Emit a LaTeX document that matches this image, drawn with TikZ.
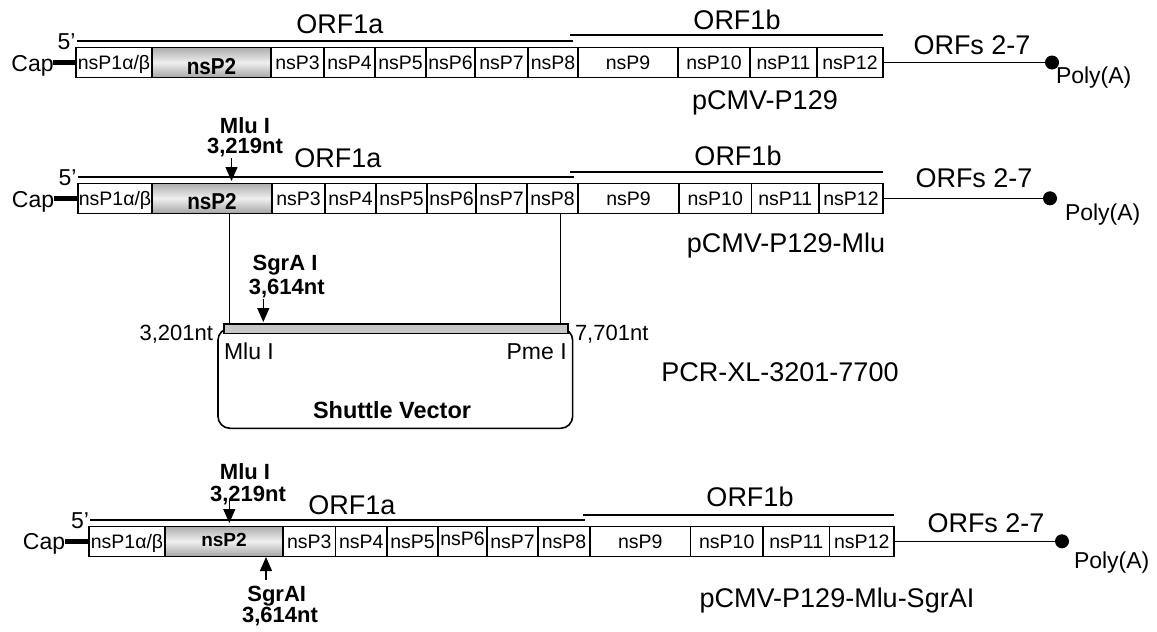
\documentclass[tikz,border=0pt]{standalone}
\usepackage{fontspec}
\setmainfont{Liberation Sans}
\usetikzlibrary{arrows.meta}
\newcommand\fsz[1]{\fontsize{#1}{#1}\selectfont}
\newcommand\mkcell[5]{\node[cell, minimum width={#3-#2}] (#1) at ({(#2+#3)/2},#4) {#5};}
\newcommand\mkgrad[4]{\node[grad, minimum width={#3-#2}] (#1) at ({(#2+#3)/2},#4) {};}
\tikzset{
  cell/.style={draw, line width=1.6pt, fill=white, inner sep=0pt, outer sep=0pt,
    minimum height=30pt, font=\fsz{19.5}, text height=14pt, text depth=0pt},
  grad/.style={draw, line width=1.6pt, inner sep=0pt, outer sep=0pt, minimum height=30pt,
    top color=gray!65, bottom color=gray!70, middle color=gray!12},
  lb/.style={inner sep=0pt, outer sep=0pt, text height={#1*0.716}, text depth=0pt, font=\fsz{#1}},
  lbb/.style={inner sep=0pt, outer sep=0pt, text height={#1*0.716}, text depth=0pt, font=\fsz{#1}\bfseries},
  seq/.style={line width=1.6pt},
  capline/.style={line width=5pt},
  cut/.style={line width=1.3pt, -{Triangle[width=12pt,length=14pt]}},
  dot/.style={circle, fill=black, inner sep=0pt, minimum size=14pt},
}
\begin{document}
\begin{tikzpicture}[x=1pt,y=-1pt]
\useasboundingbox (0,0) rectangle (1157,632);

% ================= Row 1 : pCMV-P129 =================
\mkcell{r1a}{76}{152}{62.5}{nsP1α/β}
\mkgrad{r1b}{152}{271}{62.5}
\node[lbb=23] (r1bt) at (211.5,66) {\scalebox{0.9}[1]{nsP2}};
\mkcell{r1c}{271}{324}{62.5}{nsP3}
\mkcell{r1d}{324}{375}{62.5}{nsP4}
\mkcell{r1e}{375}{426}{62.5}{nsP5}
\mkcell{r1f}{426}{475}{62.5}{nsP6}
\mkcell{r1g}{475}{528}{62.5}{nsP7}
\mkcell{r1h}{528}{578}{62.5}{nsP8}
\mkcell{r1i}{578}{678}{62.5}{nsP9}
\mkcell{r1j}{678}{750}{62.5}{nsP10}
\mkcell{r1k}{750}{817}{62.5}{nsP11}
\mkcell{r1l}{817}{883}{62.5}{nsP12}
\node[lb=23] (cap1) at (32.5,63) {Cap};
\coordinate (cap1e) at (53,62.5);
\draw[capline] (cap1e) -- (r1a.west);
\node[lb=23] (five1) at (66.5,41.5) {5’};
\coordinate (a1s) at (77,40.7); \coordinate (a1e) at (573,40.7);
\draw[seq] (a1s) -- (a1e);
\coordinate (b1s) at (570,35); \coordinate (b1e) at (883,35);
\draw[seq] (b1s) -- (b1e);
\node[lb=27] (orf1a1) at (340,24) {ORF1a};
\node[lb=27] (orf1b1) at (737,20) {ORF1b};
\node[lb=27] (orfs1) at (972,45) {ORFs 2-7};
\node[dot] (d1) at (1052,62.5) {};
\draw[seq] (r1l.east) -- (d1);
\node[lb=23, anchor=west] (pa1) at (1056,75) {Poly(A)};
\node[lb=27] (name1) at (765,100) {pCMV-P129};

% ================= Row 2 : pCMV-P129-Mlu =================
\mkcell{r2a}{78}{152}{198.3}{nsP1α/β}
\mkgrad{r2b}{152}{272}{198.3}
\node[lbb=23] (r2bt) at (212,201.5) {\scalebox{0.9}[1]{nsP2}};
\mkcell{r2c}{272}{325}{198.3}{nsP3}
\mkcell{r2d}{325}{376}{198.3}{nsP4}
\mkcell{r2e}{376}{427}{198.3}{nsP5}
\mkcell{r2f}{427}{476}{198.3}{nsP6}
\mkcell{r2g}{476}{527}{198.3}{nsP7}
\mkcell{r2h}{527}{578}{198.3}{nsP8}
\mkcell{r2i}{578}{679}{198.3}{nsP9}
\mkcell{r2j}{679}{751.5}{198.3}{nsP10}
\mkcell{r2k}{751.5}{819}{198.3}{nsP11}
\mkcell{r2l}{819}{883}{198.3}{nsP12}
\node[lb=23] (cap2) at (33,198.8) {Cap};
\coordinate (cap2e) at (54,198.3);
\draw[capline] (cap2e) -- (r2a.west);
\node[lb=23] (five2) at (67.5,177) {5’};
\coordinate (a2s) at (78,176.7); \coordinate (a2e) at (574,176.7);
\draw[seq] (a2s) -- (a2e);
\coordinate (b2s) at (570,171.7); \coordinate (b2e) at (883,171.7);
\draw[seq] (b2s) -- (b2e);
\node[lb=27] (orf1a2) at (338,158) {ORF1a};
\node[lb=27] (orf1b2) at (738,156) {ORF1b};
\node[lb=27] (orfs2) at (974,178) {ORFs 2-7};
\node[dot] (d2) at (1050,198.3) {};
\draw[seq] (r2l.east) -- (d2);
\node[lb=23, anchor=west] (pa2) at (1065,212.7) {Poly(A)};
\node[lb=27] (name2) at (786,243) {pCMV-P129-Mlu};
\node[lbb=22] (mlu2) at (245,125.5) {Mlu I};
\node[lbb=22] (mlu2n) at (245,145.5) {3,219nt};
\coordinate (m2s) at (231.5,158); \coordinate (m2e) at (231.5,181);
\draw[cut] (m2s) -- (m2e);

% ================= Shuttle vector =================
\node[draw, line width=1.6pt, rounded corners=12pt, minimum width=354.7pt,
  minimum height=100pt, inner sep=0pt] (sv) at (395.3,378.3) {};
\node[draw, line width=1.6pt, fill=gray!45, minimum width=344pt, minimum height=9.3pt,
  inner sep=0pt] (bar) at (396,328.7) {};
\coordinate (v1t) at (229.6,213.3); \coordinate (v2t) at (560.5,213.3);
\draw[line width=1.3pt] (v1t) -- (v1t |- bar.north);
\draw[line width=1.3pt] (v2t) -- (v2t |- bar.north);
\node[lbb=22] (sgr) at (285,263) {SgrA I};
\node[lbb=22] (sgrn) at (286.7,286.7) {3,614nt};
\coordinate (s1s) at (263.3,299); \coordinate (s1e) at (263.3,322);
\draw[cut] (s1s) -- (s1e);
\node[lb=22, anchor=east] (n3201) at (213,333) {3,201nt};
\node[lb=22, anchor=west] (n7701) at (575,333) {7,701nt};
\node[lb=23, anchor=west] (mluin) at (224,351.7) {Mlu I};
\node[lb=23, anchor=east] (pmein) at (566.7,351.7) {Pme I};
\node[lbb=23.5] (svt) at (392,410) {Shuttle Vector};
\node[lb=27] (pcr) at (780,371.7) {PCR-XL-3201-7700};

% ================= Row 3 : pCMV-P129-Mlu-SgrAI =================
\mkcell{r3a}{89}{165}{541.3}{nsP1α/β}
\mkgrad{r3b}{165}{283}{541.3}
\node[lbb=19] (r3bt) at (224,539.5) {nsP2};
\mkcell{r3c}{283}{335.5}{541.3}{nsP3}
\mkcell{r3d}{335.5}{387}{541.3}{nsP4}
\mkcell{r3e}{387}{438}{541.3}{nsP5}
\mkcell{r3f}{438}{487}{541.3}{\raisebox{3pt}{nsP6}}
\mkcell{r3g}{487}{538}{541.3}{nsP7}
\mkcell{r3h}{538}{590}{541.3}{nsP8}
\mkcell{r3i}{590}{690.5}{541.3}{nsP9}
\mkcell{r3j}{690.5}{763}{541.3}{nsP10}
\mkcell{r3k}{763}{829.5}{541.3}{nsP11}
\mkcell{r3l}{829.5}{894}{541.3}{nsP12}
\node[lb=23] (cap3) at (44,541.5) {Cap};
\coordinate (cap3e) at (65,541.3);
\draw[capline] (cap3e) -- (r3a.west);
\node[lb=23] (five3) at (80,520) {5’};
\coordinate (a3s) at (90,520); \coordinate (a3e) at (585,520);
\draw[seq] (a3s) -- (a3e);
\coordinate (b3s) at (583,515); \coordinate (b3e) at (894,515);
\draw[seq] (b3s) -- (b3e);
\node[lb=27] (orf1a3) at (352,504.7) {ORF1a};
\node[lb=27] (orf1b3) at (750,497) {ORF1b};
\node[lb=27] (orfs3) at (986,523) {ORFs 2-7};
\node[dot] (d3) at (1062,541.3) {};
\draw[seq] (r3l.east) -- (d3);
\node[lb=23, anchor=west] (pa3) at (1074,560) {Poly(A)};
\node[lb=27] (name3) at (837,598) {pCMV-P129-Mlu-SgrAI};
\node[lbb=22] (mlu3) at (245,472) {Mlu I};
\node[lbb=22] (mlu3n) at (248,493.7) {3,219nt};
\coordinate (m3s) at (229.3,500); \coordinate (m3e) at (229.3,523);
\draw[cut] (m3s) -- (m3e);
\node[lbb=22] (sgr3) at (276.7,593.7) {SgrAI};
\node[lbb=22] (sgr3n) at (280,615) {3,614nt};
\coordinate (s3s) at (266,580); \coordinate (s3e) at (266,557);
\draw[cut] (s3s) -- (s3e);
\end{tikzpicture}
\end{document}
